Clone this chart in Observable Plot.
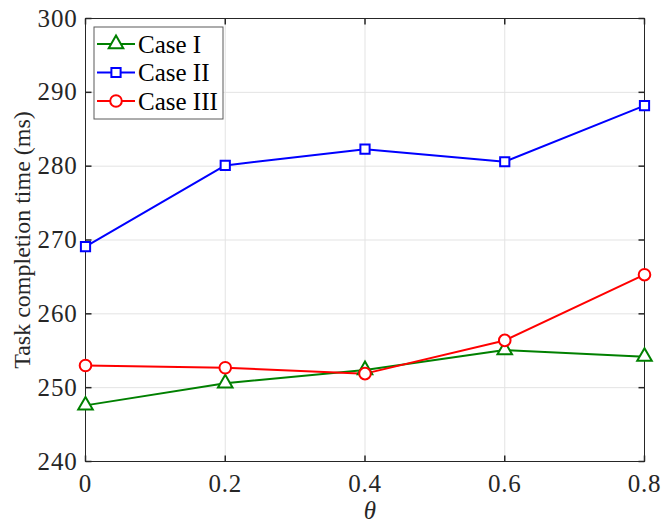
<!DOCTYPE html>
<html>
<head>
<meta charset="utf-8">
<script src="https://cdn.jsdelivr.net/npm/d3@7"></script>
<script src="https://cdn.jsdelivr.net/npm/@observablehq/plot@0.6"></script>
<style>
  body { margin: 0; background: #fff; }
  #chart { width: 672px; height: 523px; }
  #chart svg { font-family: "Liberation Serif", "DejaVu Serif", serif; }
  #chart svg g[aria-label="x-axis tick label"] text,
  #chart svg g[aria-label="y-axis tick label"] text { letter-spacing: 0.8px; }
</style>
</head>
<body>
<div id="chart"></div>
<script>
// Task completion time versus theta for three cases
const theta = [0, 0.2, 0.4, 0.6, 0.8];
const caseI = [247.6, 250.6, 252.4, 255.1, 254.2];
const caseII = [269.1, 280.1, 282.3, 280.6, 288.2];
const caseIII = [253.0, 252.7, 251.9, 256.4, 265.3];

const seriesNames = ["Case I", "Case II", "Case III"];
const seriesColors = ["#008000", "#0000ff", "#ff0000"];
const seriesSymbols = ["triangle", "square", "circle"];
const seriesRadius = [5.4, 5.2, 5.8];

const xTicks = [0, 0.2, 0.4, 0.6, 0.8];
const xTickLabels = ["0", "0.2", "0.4", "0.6", "0.8"];
const yTicks = [240, 250, 260, 270, 280, 290, 300];
const xLabel = "θ";
const yLabel = "Task completion time (ms)";

const seriesValues = [caseI, caseII, caseIII];
const rows = seriesValues.flatMap((vals, i) =>
  vals.map((v, j) => ({ theta: theta[j], value: v, series: seriesNames[i] }))
);

// short inward tick symbols for a boxed axis
const tickSymbol = (dx, dy) => ({ draw(ctx) { ctx.moveTo(0, 0); ctx.lineTo(dx, dy); } });
const TICK = 6;
const axisColor = "#262626";
const gridColor = "#e3e3e3";
const serif = "'Liberation Serif', 'DejaVu Serif', serif";
const fontSize = 25;

const marks = [
  Plot.gridX(xTicks, { stroke: gridColor, strokeOpacity: 1 }),
  Plot.gridY(yTicks, { stroke: gridColor, strokeOpacity: 1 }),
  Plot.frame({ stroke: axisColor, strokeWidth: 1 }),
  Plot.dot(xTicks, { x: d => d, frameAnchor: "bottom", symbol: tickSymbol(0, -TICK), stroke: axisColor, r: 1 }),
  Plot.dot(xTicks, { x: d => d, frameAnchor: "top", symbol: tickSymbol(0, TICK), stroke: axisColor, r: 1 }),
  Plot.dot(yTicks, { y: d => d, frameAnchor: "left", symbol: tickSymbol(TICK, 0), stroke: axisColor, r: 1 }),
  Plot.dot(yTicks, { y: d => d, frameAnchor: "right", symbol: tickSymbol(-TICK, 0), stroke: axisColor, r: 1 }),
  Plot.axisX(xTicks, {
    anchor: "bottom", tickSize: 0, tickPadding: 13, label: null,
    tickFormat: (d, i) => xTickLabels[i], fontSize, fill: axisColor
  }),
  Plot.axisY(yTicks, {
    anchor: "left", tickSize: 0, tickPadding: 8, label: null,
    tickFormat: d => String(d), fontSize, fill: axisColor
  }),
  Plot.text([yLabel], {
    text: d => d, frameAnchor: "left", dx: -63, rotate: -90, textAnchor: "middle",
    fontSize: 24, fill: axisColor
  }),
  Plot.text([xLabel], {
    text: d => d, frameAnchor: "bottom", dx: 5, dy: 49, lineAnchor: "middle",
    fontSize: 25, fontStyle: "italic", fill: axisColor
  })
];

seriesNames.forEach((name, i) => {
  const data = rows.filter(r => r.series === name);
  marks.push(Plot.line(data, { x: "theta", y: "value", stroke: seriesColors[i], strokeWidth: 2 }));
});
seriesNames.forEach((name, i) => {
  const data = rows.filter(r => r.series === name);
  marks.push(Plot.dot(data, {
    x: "theta", y: "value", symbol: seriesSymbols[i], r: seriesRadius[i],
    stroke: seriesColors[i], fill: "white", strokeWidth: 2
  }));
});

const chart = Plot.plot({
  width: 672,
  height: 523,
  marginLeft: 85,
  marginRight: 28,
  marginTop: 18,
  marginBottom: 62,
  style: { fontFamily: serif, background: "#fff" },
  x: { domain: [0, 0.8], axis: null },
  y: { domain: [240, 300], axis: null },
  marks
});

// legend box in the upper-left corner of the plot area
const svg = d3.select(chart);
const lg = svg.append("g").attr("transform", "translate(94,27)");
lg.append("rect").attr("width", 129).attr("height", 92)
  .attr("fill", "white").attr("stroke", "#5a5a5a").attr("stroke-width", 1);
const symbolGen = { triangle: d3.symbolTriangle, square: d3.symbolSquare, circle: d3.symbolCircle };
seriesNames.forEach((name, i) => {
  const y = 17 + i * 28.5;
  const row = lg.append("g").attr("transform", `translate(0,${y})`);
  row.append("line").attr("x1", 3).attr("x2", 41).attr("y1", 0).attr("y2", 0)
    .attr("stroke", seriesColors[i]).attr("stroke-width", 2);
  row.append("path")
    .attr("d", d3.symbol(symbolGen[seriesSymbols[i]], Math.PI * seriesRadius[i] ** 2)())
    .attr("transform", "translate(22,0)")
    .attr("fill", "white").attr("stroke", seriesColors[i]).attr("stroke-width", 2);
  row.append("text").attr("x", 44).attr("y", 0).attr("dy", "0.35em")
    .attr("text-anchor", "start")
    .style("font-family", serif).style("font-size", `${fontSize}px`)
    .attr("fill", "#000").text(name);
});

document.getElementById("chart").appendChild(chart);
</script>
</body>
</html>
